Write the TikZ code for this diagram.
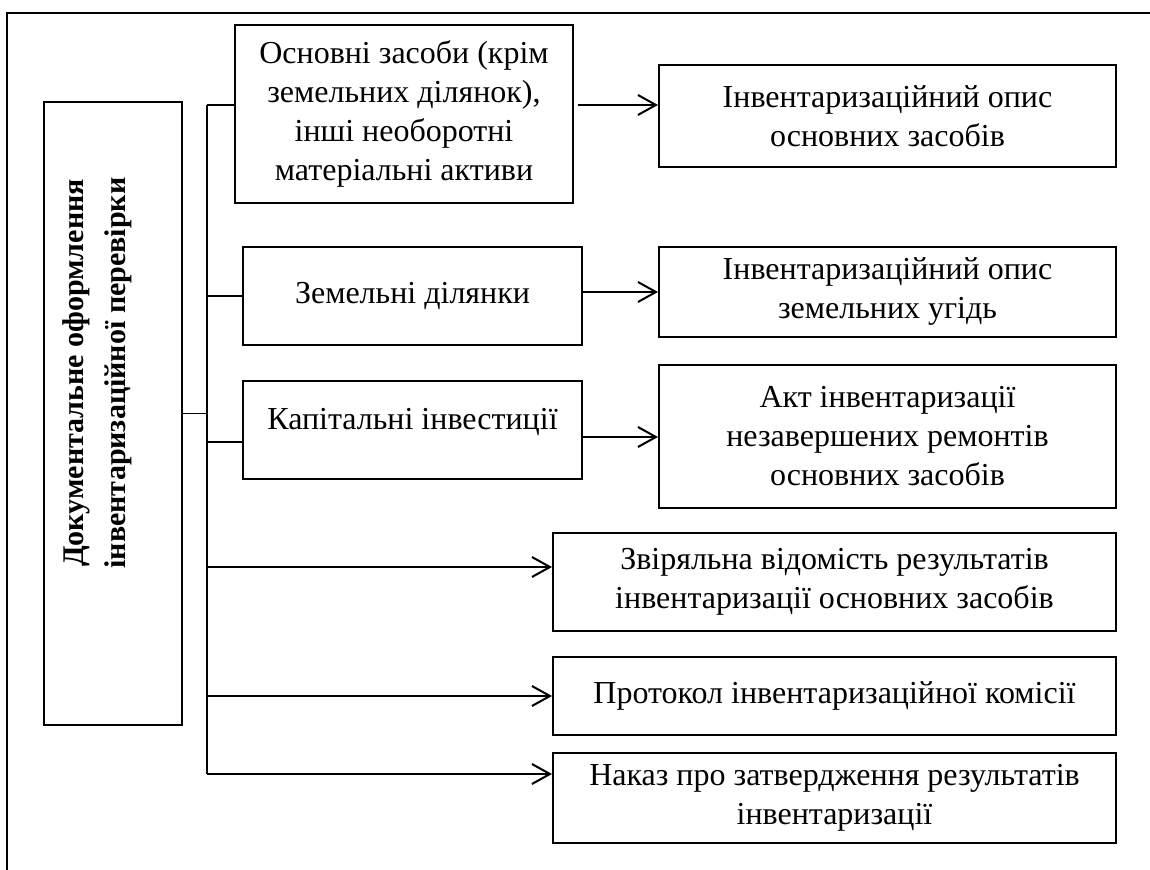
\documentclass[tikz,border=0pt]{standalone}
\usepackage{fontspec}
\setmainfont{Liberation Serif}
\usetikzlibrary{arrows.meta,calc}
\definecolor{LineClr}{RGB}{0,0,0}

\begin{document}
\begin{tikzpicture}[x=0.5pt,y=-0.5pt,
  BoxStl/.style={draw=LineClr,line width=1pt,align=center,inner sep=0pt,font=\fontsize{16}{19.5}\selectfont},
  LinkStl/.style={draw=LineClr,line width=0.7pt},
  ArrStl/.style={draw=LineClr,line width=1pt,-{Straight Barb[length=9pt,width=10pt,line width=1pt]}},
  FrameStl/.style={draw=LineClr,line width=0.7pt}]
\useasboundingbox (0,0) rectangle (1150,870);
\clip (0,0) rectangle (1150,870);
\draw[FrameStl] (7,13) rectangle (1200,920);


\node[BoxStl,minimum width=69pt,minimum height=311.5pt] (Main) at (113,413.5) {};
\node[rotate=90,align=center,inner sep=0pt,font=\bfseries\fontsize{15}{21}\selectfont] (MainTxt) at (97,373)
  {Документальне оформлення\\інвентаризаційної перевірки};

\node[BoxStl,minimum width=169pt,minimum height=89pt] (Fixed) at (404,114)
  {Основні засоби (крім\\земельних ділянок),\\інші необоротні\\матеріальні активи};
\node[BoxStl,minimum width=169.5pt,minimum height=49pt] (Land) at (412.5,296) {Земельні ділянки};
\node[BoxStl,minimum width=169.5pt,minimum height=49pt,text height=8pt,text depth=8pt] (Capital) at (412.5,430)
  {Капітальні інвестиції};

\node[BoxStl,minimum width=228.5pt,minimum height=51pt] (FixedList) at (887.5,116)
  {Інвентаризаційний опис\\основних засобів};
\node[BoxStl,minimum width=228.5pt,minimum height=45pt] (LandList) at (887.5,292)
  {Інвентаризаційний опис\\земельних угідь};
\node[BoxStl,minimum width=228.5pt,minimum height=71.5pt] (RepairAct) at (887.5,436.5)
  {Акт інвентаризації\\незавершених ремонтів\\основних засобів};

\node[BoxStl,minimum width=281.5pt,minimum height=49pt] (Matching) at (834.5,582)
  {Звіряльна відомість результатів\\інвентаризації основних засобів};
\node[BoxStl,minimum width=281.5pt,minimum height=39pt] (Protocol) at (834.5,696)
  {Протокол інвентаризаційної комісії};
\node[BoxStl,minimum width=281.5pt,minimum height=45pt] (Order) at (834.5,798)
  {Наказ про затвердження результатів\\інвентаризації};


\coordinate (TrunkTop) at (207,105);
\coordinate (TrunkBot) at (207,774);
\coordinate (JLand) at (207,296);
\coordinate (JCapital) at (207,442);
\coordinate (JMatching) at (207,567);
\coordinate (JProtocol) at (207,696);
\coordinate (ALand) at (0,292);
\coordinate (ACapital) at (0,437);

\draw[LinkStl] (TrunkTop) -- (TrunkBot);
\draw[LinkStl] (Main.east) -- (Main.east -| TrunkTop);
\draw[LinkStl] (TrunkTop) -- (TrunkTop -| Fixed.west);
\draw[LinkStl] (JLand) -- (JLand -| Land.west);
\draw[LinkStl] (JCapital) -- (JCapital -| Capital.west);

\draw[ArrStl] ($(Fixed.east |- TrunkTop)+(4,0)$) -- (FixedList.west |- TrunkTop);
\draw[ArrStl] (Land.east |- ALand) -- (LandList.west |- ALand);
\draw[ArrStl] (Capital.east |- ACapital) -- (RepairAct.west |- ACapital);

\draw[ArrStl] (JMatching) -- (JMatching -| Matching.west);
\draw[ArrStl] (JProtocol) -- (JProtocol -| Protocol.west);
\draw[ArrStl] (TrunkBot) -- (TrunkBot -| Order.west);

\end{tikzpicture}
\end{document}
